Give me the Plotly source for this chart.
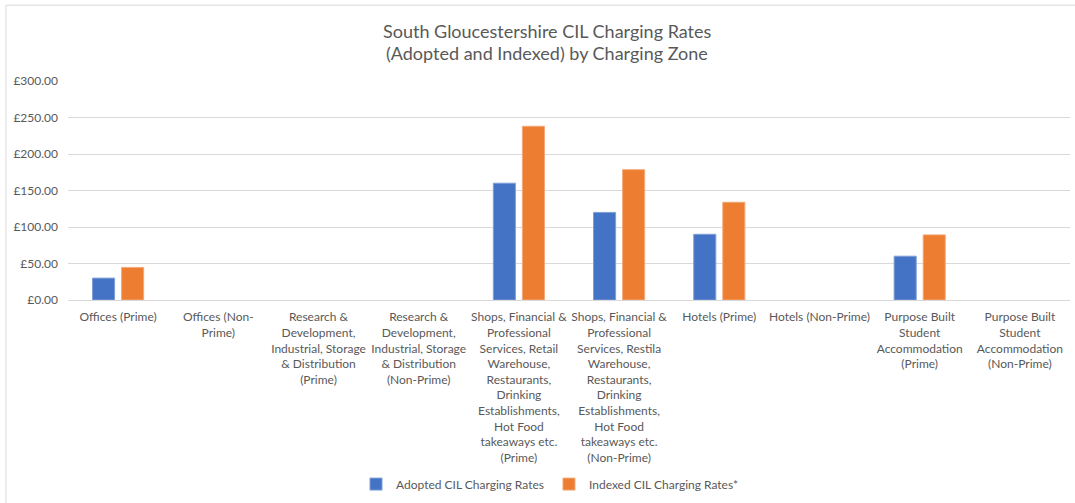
import plotly.graph_objects as go

categories = [
    "Offices (Prime)",
    "Offices (Non-<br>Prime)",
    "Research &<br>Development,<br>Industrial, Storage<br>& Distribution<br>(Prime)",
    "Research &<br>Development,<br>Industrial, Storage<br>& Distribution<br>(Non-Prime)",
    "Shops, Financial &<br>Professional<br>Services, Retail<br>Warehouse,<br>Restaurants,<br>Drinking<br>Establishments,<br>Hot Food<br>takeaways etc.<br>(Prime)",
    "Shops, Financial &<br>Professional<br>Services, Restila<br>Warehouse,<br>Restaurants,<br>Drinking<br>Establishments,<br>Hot Food<br>takeaways etc.<br>(Non-Prime)",
    "Hotels (Prime)",
    "Hotels (Non-Prime)",
    "Purpose Built<br>Student<br>Accommodation<br>(Prime)",
    "Purpose Built<br>Student<br>Accommodation<br>(Non-Prime)",
]
adopted = [30, None, None, None, 160, 120, 90, None, 60, None]
indexed = [44.6, None, None, None, 238, 178.5, 133.9, None, 89.2, None]
title_lines = ["South Gloucestershire CIL Charging Rates",
               "(Adopted and Indexed) by Charging Zone"]

FONT = "Lato"
W, H = 1075, 503
L, R, T, B = 68, 5, 81, 202.5
pw = W - L - R
ph = H - T - B


def py(pix):
    """pixel row -> paper y"""
    return (H - B - pix) / ph


def px(pix):
    return (pix - L) / pw


fig = go.Figure()
fig.add_trace(go.Bar(x=categories, y=adopted, name="Adopted CIL Charging Rates",
                     marker=dict(color="#4472C4", line=dict(color="#7E9FD8", width=1))))
fig.add_trace(go.Bar(x=categories, y=indexed, name="Indexed CIL Charging Rates*",
                     marker=dict(color="#ED7D31", line=dict(color="#F4A97A", width=1))))

fig.update_layout(
    width=W, height=H,
    margin=dict(l=L, r=R, t=T, b=B, autoexpand=False),
    paper_bgcolor="white", plot_bgcolor="white",
    font=dict(family=FONT, size=12, color="#595959"),
    barmode="group", bargap=0.42, bargroupgap=0.24,
    legend=dict(orientation="h", x=px(550), xanchor="center", y=py(485),
                yanchor="middle", font=dict(size=12, color="#595959"),
                itemwidth=30, traceorder="normal"),
    showlegend=True,
)
for i, line in enumerate(title_lines):
    fig.add_annotation(text=line, xref="paper", yref="paper", x=px(547), y=py(31 + 22 * i),
                       xanchor="center", yanchor="middle", showarrow=False,
                       font=dict(family=FONT, size=18, color="#595959"))

fig.update_xaxes(showgrid=False, showline=True, linecolor="#D9D9D9", linewidth=1,
                 ticks="", tickangle=0, automargin=False, ticklabelstandoff=6,
                 tickfont=dict(size=12, color="#595959"))
fig.update_yaxes(range=[0, 300], dtick=50, tickprefix="£", tickformat=",.2f",
                 showgrid=True, gridcolor="#D9D9D9", gridwidth=1, zeroline=False,
                 showline=False, ticks="", ticklen=0, ticklabelstandoff=9, automargin=False,
                 tickfont=dict(size=12, color="#595959"))

# chart border (light gray), in paper coordinates
fig.add_shape(type="rect", xref="paper", yref="paper",
              x0=px(6), x1=px(W + 10), y0=py(H + 10), y1=py(5),
              line=dict(color="#D9D9D9", width=1), fillcolor="rgba(0,0,0,0)", layer="below")

fig.write_html("out.html", config={"displayModeBar": False},
               post_script="document.body.style.margin='0';document.body.style.overflow='hidden';")
